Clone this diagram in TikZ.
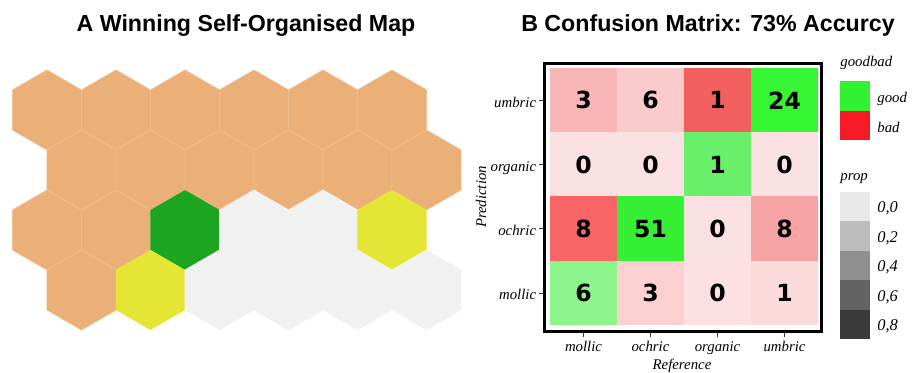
\documentclass[tikz,border=0pt]{standalone}
\usepackage{fontspec}
\setmainfont{Liberation Serif}
\newfontfamily\headfont{Liberation Sans}
\newfontfamily\cellfont{DejaVu Sans}
\usetikzlibrary{shapes.geometric}

% hexagon map colours
\definecolor{somorange}{HTML}{EBB077}
\definecolor{somgreen}{HTML}{1BA520}
\definecolor{somyellow}{HTML}{E5E535}
\definecolor{somgrey}{HTML}{F1F1F1}
% confusion matrix colours
\definecolor{cA}{HTML}{F8B6B6}
\definecolor{cB}{HTML}{FBCBCB}
\definecolor{cC}{HTML}{F25F5F}
\definecolor{cD}{HTML}{35F535}
\definecolor{cE}{HTML}{FCE1E3}
\definecolor{cF}{HTML}{6AEF6A}
\definecolor{cG}{HTML}{F76565}
\definecolor{cH}{HTML}{35F035}
\definecolor{cI}{HTML}{F6A3A3}
\definecolor{cJ}{HTML}{8CF58C}
\definecolor{cK}{HTML}{FBD0D0}
\definecolor{cL}{HTML}{FCE0E2}
\definecolor{cM}{HTML}{FBDADA}
\definecolor{keygood}{HTML}{33F233}
\definecolor{keybad}{HTML}{F51A25}

\begin{document}
\begin{tikzpicture}[x=0.5pt,y=-0.5pt,
  hexcell/.style={regular polygon, regular polygon sides=6, shape border rotate=30,
    minimum size=40pt, inner sep=0pt, outer sep=0pt},
  hexo/.style={hexcell, fill=somorange, draw=somorange!80!white, line width=0.35pt},
  hexg/.style={hexcell, fill=somgreen},
  hexy/.style={hexcell, fill=somyellow},
  hexe/.style={hexcell, fill=somgrey, draw=somgrey!80!white, line width=0.3pt},
  title/.style={font=\headfont\bfseries\fontsize{11.6}{14}\selectfont, anchor=base},
  cell/.style={minimum width=33.6pt, minimum height=32.2pt, inner sep=0pt,
    font=\cellfont\bfseries\fontsize{11.8}{13}\selectfont},
  axlab/.style={font=\itshape\fontsize{7.4}{9}\selectfont, inner sep=0pt},
  keybox/.style={minimum width=15pt, minimum height=14.75pt, inner sep=0pt},
  tick/.style={line width=0.4pt, draw=black!80}
]
\useasboundingbox (0,0) rectangle (912,373);

% ---------- A: self-organised map ----------
\node[title] (titleA) at (246,31.5) {A Winning Self-Organised Map};

\foreach \c [count=\i] in {hexo,hexo,hexo,hexo,hexo,hexo}
  \node[\c] (h1-\i) at ({47+69*(\i-1)},110) {};
\foreach \c [count=\i] in {hexo,hexo,hexo,hexo,hexo,hexo}
  \node[\c] (h2-\i) at ({81.5+69*(\i-1)},170) {};
\foreach \c [count=\i] in {hexo,hexo,hexg,hexe,hexe,hexy}
  \node[\c] (h3-\i) at ({47+69*(\i-1)},230) {};
\foreach \c [count=\i] in {hexo,hexy,hexe,hexe,hexe,hexe}
  \node[\c] (h4-\i) at ({81.5+69*(\i-1)},290) {};

% ---------- B: confusion matrix ----------
\node[title] (titleB) at (708,31.5) {B Confusion Matrix: 73\% Accurcy};

% cells: row = prediction, column = reference
\foreach \col/\txt [count=\j] in {cA/3,cB/6,cC/1,cD/24}
  \node[cell, fill=\col] (m1-\j) at ({583.5+67*(\j-1)},100.3) {\txt};
\foreach \col/\txt [count=\j] in {cE/0,cE/0,cF/1,cE/0}
  \node[cell, fill=\col] (m2-\j) at ({583.5+67*(\j-1)},164.5) {\txt};
\foreach \col/\txt [count=\j] in {cG/8,cH/51,cE/0,cI/8}
  \node[cell, fill=\col] (m3-\j) at ({583.5+67*(\j-1)},228.7) {\txt};
\foreach \col/\txt [count=\j] in {cJ/6,cK/3,cL/0,cM/1}
  \node[cell, fill=\col] (m4-\j) at ({583.5+67*(\j-1)},293) {\txt};

% panel frame
\draw[line width=1.5pt] (544.8,63.2) rectangle (821.8,331.3);

% prediction axis
\foreach \lab/\yy in {umbric/100.3, organic/164.5, ochric/228.7, mollic/293}{
  \draw[tick] (539,\yy) -- (543.5,\yy);
  \node[axlab, anchor=base east] at (536.5,\yy+7) {\lab};
}
\node[axlab, rotate=90] (ylab) at (481,197) {Prediction};

% reference axis
\foreach \lab [count=\j] in {mollic, ochric, organic, umbric}{
  \draw[tick] ({583.5+67*(\j-1)},332.5) -- ({583.5+67*(\j-1)},337);
  \node[axlab, anchor=base] at ({583.5+67*(\j-1)},351.5) {\lab};
}
\node[axlab, anchor=base] (xlab) at (682,369.5) {Reference};

% legend: goodbad
\node[axlab, anchor=base west] (kgb) at (840,67) {goodbad};
\node[keybox, fill=keygood] (kgood) at (855,96.2) {};
\node[keybox, fill=keybad] (kbad) at (855,125.7) {};
\node[axlab, anchor=west] at (877,98.5) {good};
\node[axlab, anchor=west] at (877,127.5) {bad};

% legend: prop
\node[axlab, anchor=base west] (kprop) at (840,181) {prop};
\foreach \g/\lab [count=\k] in {E8E8E8/{0,0}, BDBDBD/{0,2}, 8F8F8F/{0,4}, 636363/{0,6}, 3A3A3A/{0,8}}{
  \definecolor{kg}{HTML}{\g}
  \node[keybox, fill=kg] (kp\k) at (855,{206.4+29.5*(\k-1)}) {};
  \node[axlab, anchor=west, font=\itshape\fontsize{8.2}{9}\selectfont] at (877,{208.4+29.5*(\k-1)}) {\lab};
}
\end{tikzpicture}
\end{document}
